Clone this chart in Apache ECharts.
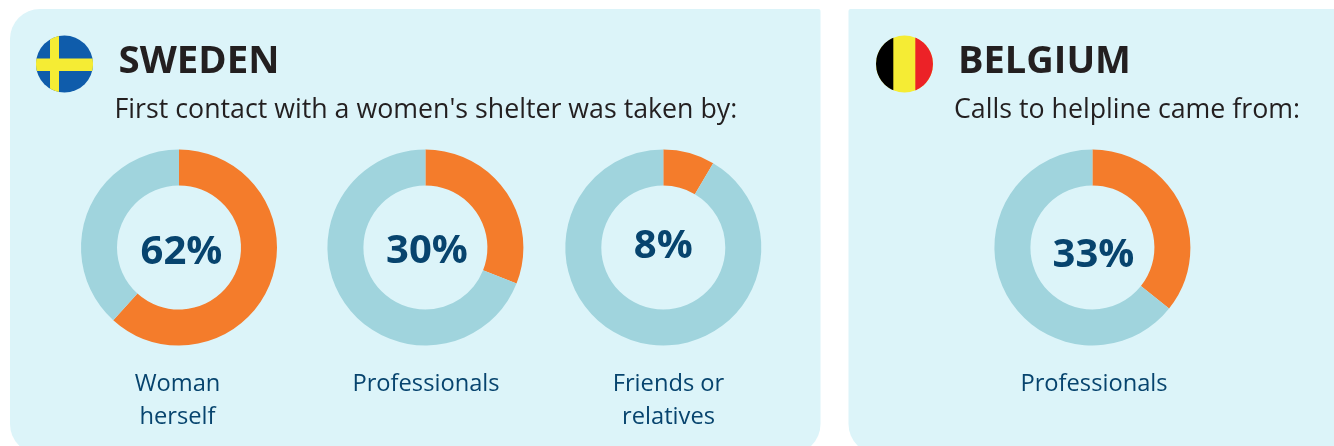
<!DOCTYPE html>
<html><head><meta charset="utf-8">
<style>html,body{margin:0;padding:0;background:#fff}#c{width:1334px;height:446px}</style>
<script src="https://cdn.jsdelivr.net/npm/echarts@6/dist/echarts.min.js"></script>
</head><body><div id="c"></div>
<script>
const donutNames = ['Woman herself', 'Professionals', 'Friends or relatives', 'Professionals (Belgium)'];
const shareLabels = ['62%', '30%', '8%', '33%'];
const arcValues = [61.7, 31, 8.5, 35.7];
const captions = [['Woman', 'herself'], ['Professionals'], ['Friends or', 'relatives'], ['Professionals']];
const countries = ['SWEDEN', 'BELGIUM'];
const subtitles = ["First contact with a women's shelter was taken by:", 'Calls to helpline came from:'];

const centersX = [179, 425.4, 663.3, 1092.4];
const centersY = [247.5, 247.5, 247.5, 247.5];
const labelDx = [2.5, 1.5, 0, 1];
const labelDy = [5, 4, -1, 8];
const captionX = [177.5, 426, 668.5, 1094];
const ORANGE = '#F47C2B', LIGHT = '#A0D4DD', PANEL = '#DCF4F9', NAVY = '#07446E', DARK = '#231F20';
const FONT = '"Open Sans", sans-serif';

const series = arcValues.map((v, i) => ({
  type: 'pie',
  name: donutNames[i],
  center: [centersX[i], centersY[i]],
  radius: [62, 98],
  startAngle: 90,
  clockwise: true,
  silent: true,
  animation: false,
  labelLine: { show: false },
  data: [
    { value: v, name: donutNames[i], itemStyle: { color: ORANGE },
      label: { show: true, position: 'center', formatter: shareLabels[i], offset: [labelDx[i], labelDy[i]],
        fontFamily: FONT, fontWeight: 700, fontSize: 40, color: NAVY } },
    { value: 100 - v, name: 'Other', itemStyle: { color: LIGHT }, label: { show: false } }
  ]
}));

// A stripe of a round flag: the band a..b across a circle, with curved ends.
function stripe(cx, cy, r, a, b, vertical, fill) {
  const top = [], bottom = [];
  const N = 32;
  for (let k = 0; k <= N; k++) {
    const d = a + (b - a) * k / N;
    const h = Math.sqrt(Math.max(0, r * r - d * d));
    if (vertical) { top.push([cx + d, cy - h]); bottom.unshift([cx + d, cy + h]); }
    else { top.push([cx - h, cy + d]); bottom.unshift([cx + h, cy + d]); }
  }
  return { type: 'polygon', silent: true, shape: { points: top.concat(bottom) }, style: { fill } };
}
const txt = (x, y, text, size, weight, fill, align) => ({
  type: 'text', x, y, silent: true,
  style: { text, fontFamily: FONT, fontSize: size, fontWeight: weight, fill, align: align || 'center', verticalAlign: 'middle' }
});

const elements = [
  { type: 'rect', silent: true, shape: { x: 10, y: 9, width: 810.5, height: 445, r: [30, 2, 30, 30] }, style: { fill: PANEL } },
  { type: 'rect', silent: true, shape: { x: 848.5, y: 9, width: 520, height: 445, r: [2, 30, 30, 30] }, style: { fill: PANEL } },
  { type: 'circle', silent: true, shape: { cx: 64.5, cy: 64, r: 28.5 }, style: { fill: '#0F5CAB' } },
  stripe(64.5, 64, 28.5, -14.5, -5.5, true, '#F5EC34'),
  stripe(64.5, 64, 28.5, -5.5, 7, false, '#F5EC34'),
  { type: 'circle', silent: true, shape: { cx: 904.5, cy: 64, r: 28.5 }, style: { fill: '#F5EC34' } },
  stripe(904.5, 64, 28.5, -28.5, -11.2, true, '#000000'),
  stripe(904.5, 64, 28.5, 10.8, 28.5, true, '#EC2227'),
  txt(118.5, 62, countries[0], 38.4, 700, DARK, 'left'),
  txt(958, 62, countries[1], 38, 700, DARK, 'left'),
  txt(114.5, 110, subtitles[0], 26.75, 400, DARK, 'left'),
  txt(954, 110, subtitles[1], 26.75, 400, DARK, 'left')
];
captions.forEach((lines, i) => lines.forEach((t, j) => {
  elements.push(txt(captionX[i], 384 + j * 33, t, 23.7, 400, NAVY));
}));

const chart = echarts.init(document.getElementById('c'), null, { renderer: 'canvas' });
chart.setOption({
  animation: false,
  backgroundColor: '#ffffff',
  series,
  graphic: { elements: elements.map(e => Object.assign({ z: e.type === 'rect' ? -10 : 10 }, e)) }
});
</script></body></html>
